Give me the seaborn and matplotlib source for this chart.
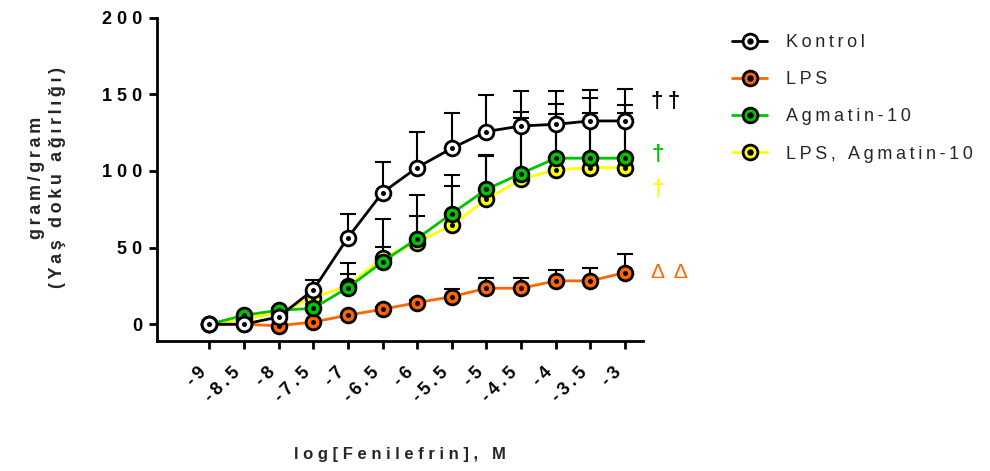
import numpy as np
import matplotlib
matplotlib.use("Agg")
import matplotlib.pyplot as plt
import seaborn as sns
from matplotlib.lines import Line2D
from matplotlib.legend_handler import HandlerTuple

# log concentration of phenylephrine (M)
log_conc = [-9, -8.5, -8, -7.5, -7, -6.5, -6, -5.5, -5, -4.5, -4, -3.5, -3]
tick_labels = ["-9", "-8.5", "-8", "-7.5", "-7", "-6.5", "-6",
               "-5.5", "-5", "-4.5", "-4", "-3.5", "-3"]

# contraction responses (mean and upper SEM)
kontrol_mean = [0, 0, 4.8, 22.4, 56.5, 85.9, 102.2, 114.8, 125.7, 129.3, 130.4, 132.6, 132.6]
kontrol_sem = [0, 0, 2.0, 6.3, 15.2, 20.0, 23.2, 23.2, 23.9, 22.7, 21.8, 20.4, 20.7]

lps_mean = [0, 0, -1.0, 1.5, 5.9, 9.8, 14.1, 18.0, 23.5, 23.5, 28.3, 28.3, 33.7]
lps_sem = [0, 0, 0, 0.5, 1.0, 1.5, 2.0, 5.3, 6.9, 6.9, 6.9, 8.2, 12.4]

agm_mean = [0, 5.9, 9.1, 10.4, 23.9, 40.7, 55.9, 72.2, 88.0, 98.3, 108.3, 108.3, 108.3]
agm_sem = [0, 1.0, 1.5, 3.0, 15.9, 27.8, 28.2, 25.0, 22.2, 40.2, 35.6, 39.3, 34.5]

lps_agm_mean = [0, 3.5, 7.5, 17.4, 25.0, 43.5, 53.3, 64.8, 81.5, 94.6, 100.7, 102.2, 102.2]
lps_agm_sem = [0, 1.0, 1.5, 3.0, 8.0, 6.9, 17.4, 25.4, 28.5, 40.0, 36.3, 35.8, 35.8]

series_names = ["Kontrol", "LPS", "Agmatin-10", "LPS, Agmatin-10"]
series_colors = ["#FFFFFF", "#FF6600", "#00C400", "#FFFF00"]

sns.set_theme(style="ticks")
plt.rcParams["font.family"] = ["Liberation Sans", "DejaVu Sans"]

THIN = "\u2009"


def tracked(text, gap=" "):
    """Spread the characters of a label apart."""
    return gap.join(text)


fig = plt.figure(figsize=(9.9, 4.71), dpi=100)
ax = fig.add_axes([0.1586, 0.277, 0.4909, 0.6857])

MS, MEW, LW = 10.6, 2.0, 2.0
line_colors = {"Kontrol": "black", "LPS": "#FF6600",
               "Agmatin-10": "#00C400", "LPS, Agmatin-10": "#FFFF00"}
face_colors = dict(zip(series_names, series_colors))

data = {
    "Kontrol": (kontrol_mean, kontrol_sem),
    "LPS": (lps_mean, lps_sem),
    "Agmatin-10": (agm_mean, agm_sem),
    "LPS, Agmatin-10": (lps_agm_mean, lps_agm_sem),
}

# upward error bars, kept beneath the curves
for name in series_names:
    mean, sem = data[name]
    ax.errorbar(log_conc, mean, yerr=[np.zeros(len(sem)), sem], fmt="none",
                ecolor="black", elinewidth=1.5, capsize=5.8, capthick=1.5,
                zorder=1.5)

draw_order = ["LPS, Agmatin-10", "LPS", "Agmatin-10", "Kontrol"]
for i, name in enumerate(draw_order):
    mean, _ = data[name]
    z = 2 + i * 0.2
    sns.lineplot(x=log_conc, y=mean, ax=ax, color=line_colors[name], lw=LW,
                 marker="o", ms=MS, mfc=face_colors[name], mec="black",
                 mew=MEW, errorbar=None, legend=False, zorder=z)
    sns.scatterplot(x=log_conc, y=mean, ax=ax, color="black", s=3.6 ** 2,
                    linewidth=0, legend=False, zorder=z + 0.1)

ax.set_xlim(-9.755, -2.74)
ax.set_ylim(-10.6, 200)
ax.set_xticks(log_conc)
ax.set_xticklabels([tracked(t, THIN) for t in tick_labels], rotation=45,
                   ha="right", va="top", fontweight="bold", fontsize=13)
ax.set_yticks([0, 50, 100, 150, 200])
ax.set_yticklabels([tracked(str(v)) for v in [0, 50, 100, 150, 200]],
                   fontweight="bold", fontsize=13)
ax.tick_params(axis="both", length=5.8, width=2, color="black",
               labelcolor="black")
ax.tick_params(axis="x", pad=11)
ax.tick_params(axis="y", pad=5)
for side in ["top", "right"]:
    ax.spines[side].set_visible(False)
for side in ["left", "bottom"]:
    ax.spines[side].set_linewidth(2)
    ax.spines[side].set_color("black")
ax.set_xlabel("")
ax.set_ylabel("")

fig.text(400 / 990, 1 - 455 / 471, tracked("log[Fenilefrin], M"),
         ha="center", va="center", fontweight="bold", fontsize=12)
fig.text(47 / 990, 1 - 178 / 471,
         tracked("gram/gram", THIN) + "\n" + tracked("(Yaş doku ağırlığı)", THIN),
         rotation=90, ha="center", va="center", multialignment="center",
         fontweight="bold", fontsize=13, linespacing=1.25)

# significance marks
ax.text(-2.408, 145.2, "†" + THIN + "†", color="black", fontsize=16,
        fontweight="bold", ha="center", va="center")
ax.text(-2.524, 110.5, "†", color="#00C400", fontsize=16,
        fontweight="bold", ha="center", va="center")
ax.text(-2.524, 87.7, "†", color="#FFFF00", fontsize=16,
        fontweight="bold", ha="center", va="center")
ax.text(-2.365, 33.5, "Δ" + THIN + " " + "Δ", color="#FF6600", fontsize=15,
        ha="center", va="center")

handles = []
for name in series_names:
    ring = Line2D([], [], color=line_colors[name], lw=LW, marker="o", ms=MS,
                  mfc=face_colors[name], mec="black", mew=MEW)
    dot = Line2D([], [], ls="none", marker="o", ms=3.6, color="black")
    handles.append((ring, dot))
fig.legend(handles, [tracked(n, THIN) for n in series_names],
           handler_map={tuple: HandlerTuple(ndivide=1, pad=0)},
           loc="upper left", bbox_to_anchor=(732 / 990, 1 - 34 / 471),
           frameon=False, fontsize=13, handlelength=1.94, handletextpad=1.05,
           labelspacing=1.12, borderpad=0, borderaxespad=0)

fig.savefig("out.png", dpi=100)
